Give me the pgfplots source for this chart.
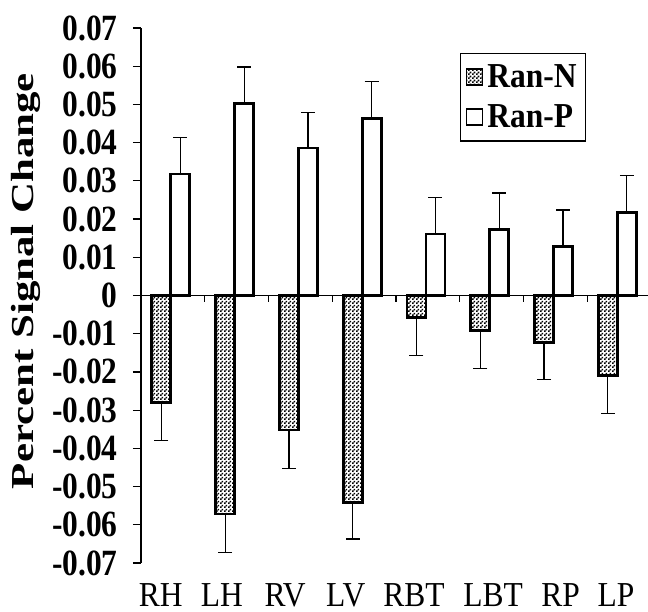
\documentclass[border=0pt]{standalone}
\usepackage{fontspec}
\setmainfont{Liberation Serif}[FakeStretch=0.9]
\newfontfamily\tickfont{Liberation Serif}[FakeStretch=0.85]
\newfontfamily\ylabfont{Liberation Serif}[FakeStretch=1.34]
\usepackage{pgfplots}
\pgfplotsset{compat=1.18}
\usetikzlibrary{patterns}

% fine checkerboard fill used for the Ran-N bars
\pgfdeclarepatternformonly{checker}{\pgfqpoint{0pt}{0pt}}{\pgfqpoint{2pt}{2pt}}{\pgfqpoint{2pt}{2pt}}{%
  \pgfpathrectangle{\pgfqpoint{0pt}{0pt}}{\pgfqpoint{1pt}{1pt}}%
  \pgfpathrectangle{\pgfqpoint{1pt}{1pt}}{\pgfqpoint{1pt}{1pt}}%
  \pgfusepath{fill}}

\newcommand{\legfont}{\fontsize{17.5}{20}\selectfont\bfseries}

\begin{document}
\begin{tikzpicture}
\begin{axis}[
  scale only axis, width=253.5pt, height=267.5pt,
  xmin=-0.5, xmax=7.45, ymin=-0.07, ymax=0.07,
  axis y line=left, axis x line=bottom,
  axis line style={-},
  x axis line style={draw=none},
  y axis line style={line width=0.7pt},
  ybar, bar width=9.5pt,
  scaled y ticks=false,
  ytick={-0.07,-0.06,-0.05,-0.04,-0.03,-0.02,-0.01,0,0.01,0.02,0.03,0.04,0.05,0.06,0.07},
  yticklabels={-0.07,-0.06,-0.05,-0.04,-0.03,-0.02,-0.01,0,0.01,0.02,0.03,0.04,0.05,0.06,0.07},
  yticklabel style={font=\fontsize{18.5}{20}\tickfont\bfseries, anchor=east, inner sep=0pt, xshift=-7.5pt},
  tick align=outside,
  ytick style={line width=0.6pt, black},
  major tick length=4pt,
  xtick={-0.19,0.77,1.76,2.71,3.78,5.02,6.08,6.95},
  xticklabels={RH,LH,RV,LV,RBT,LBT,RP,LP},
  xtick style={draw=none},
  xticklabel style={font=\fontsize{17.5}{20}\selectfont, anchor=base, yshift=-17.5pt, inner sep=0pt},
  ylabel={\ylabfont\bfseries Percent Signal Change},
  ylabel style={font=\fontsize{16}{18}\selectfont, at={(rel axis cs:-0.213,0.527)}, anchor=base, inner sep=0pt},
  legend style={at={(rel axis cs:0.629,0.954)}, anchor=north west, draw=black, line width=0.7pt,
    inner xsep=2.5pt, inner ysep=3.5pt, row sep=3pt,
    cells={anchor=west}},
  legend image code/.code={\draw[#1, line width=0.9pt] (0pt,-4pt) rectangle (8pt,4pt);},
  clip=false,
]
\addplot[draw=black, line width=1.4pt, pattern=checker, bar shift=-5.75pt,
  error bars/.cd, y dir=minus, y explicit,
  error bar style={line width=0.6pt, black},
  error mark options={rotate=90, mark size=3.5pt, line width=0.6pt, black}]
  coordinates {
  (0,-0.0279) -= (0,0.0101)
  (1,-0.0572) -= (0,0.0100)
  (2,-0.0352) -= (0,0.0100)
  (3,-0.0541) -= (0,0.0096)
  (4,-0.0058) -= (0,0.0100)
  (5,-0.0092) -= (0,0.0099)
  (6,-0.0124) -= (0,0.0095)
  (7,-0.0209) -= (0,0.0100)
};
\addlegendentry{\legfont Ran-N}
\addplot[draw=black, line width=1.4pt, fill=white, bar shift=3.75pt,
  error bars/.cd, y dir=plus, y explicit,
  error bar style={line width=0.6pt, black},
  error mark options={rotate=90, mark size=3.5pt, line width=0.6pt, black}]
  coordinates {
  (0,0.0318) += (0,0.0095)
  (1,0.0503) += (0,0.0095)
  (2,0.0386) += (0,0.0093)
  (3,0.0464) += (0,0.0096)
  (4,0.0161) += (0,0.0095)
  (5,0.0172) += (0,0.0096)
  (6,0.0128) += (0,0.0096)
  (7,0.0218) += (0,0.0096)
};
\addlegendentry{\legfont Ran-P}
% zero line with the short category ticks below it
\draw[line width=0.8pt] (rel axis cs:0,0.5) -- (rel axis cs:1,0.5);
\pgfplotsinvokeforeach{0.5,1.5,2.5,3.5,4.5,5.5,6.5}{
  \draw[line width=0.6pt] (axis cs:#1,0) -- ([yshift=-3pt]axis cs:#1,0);
}
\coordinate (bl) at (rel axis cs:0,0);
\coordinate (tr) at (rel axis cs:1,1);
\end{axis}
\pgfresetboundingbox
\path ([shift={(-70.5pt,-24pt)}]bl) rectangle ([shift={(0pt,14pt)}]tr);
\end{tikzpicture}
\end{document}
